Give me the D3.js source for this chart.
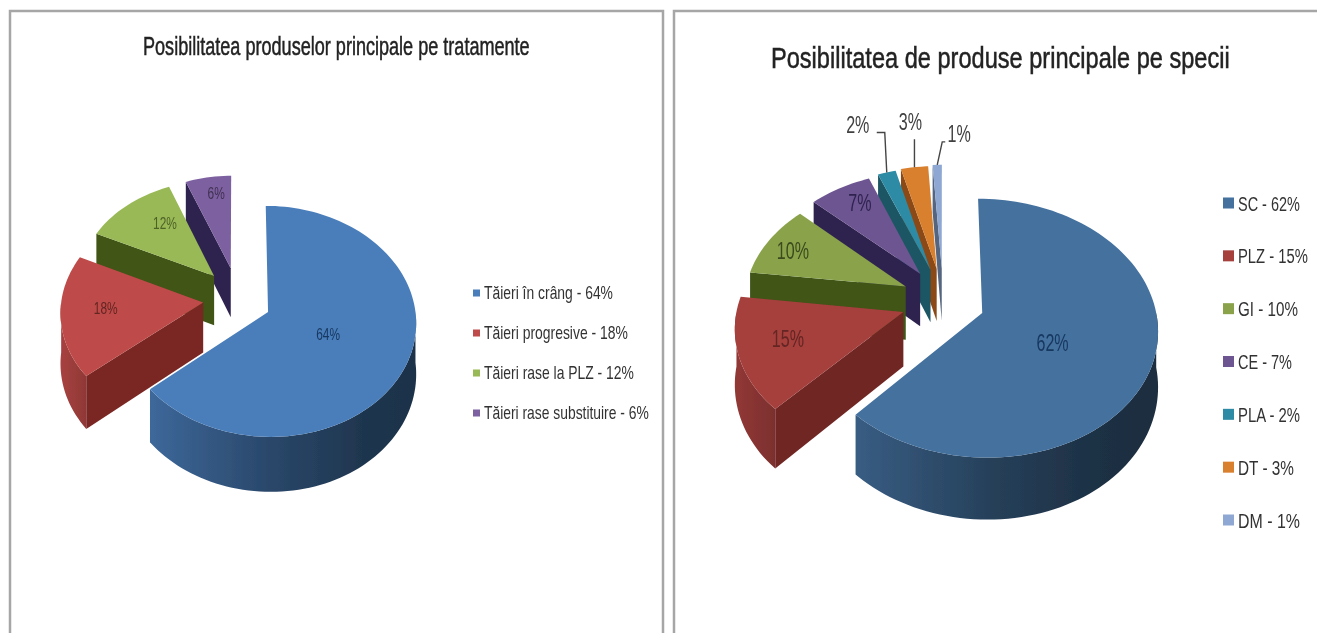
<!DOCTYPE html>
<html><head><meta charset="utf-8">
<script src="https://cdn.jsdelivr.net/npm/d3@7"></script>
<style>html,body{margin:0;padding:0;background:#fff;overflow:hidden}svg{display:block}text{font-family:"Liberation Sans",Arial,sans-serif}</style>
</head><body><svg id="c" width="1317" height="633"></svg>
<script>
// ---- data ----
const treatmentTitle = "Posibilitatea produselor principale pe tratamente";
const treatmentNames = ["Tăieri în crâng - 64%","Tăieri progresive - 18%","Tăieri rase la PLZ - 12%","Tăieri rase substituire - 6%"];
const treatmentValues = [64,18,12,6];
const speciesTitle = "Posibilitatea de produse principale pe specii";
const speciesNames = ["SC - 62%","PLZ - 15%","GI - 10%","CE - 7%","PLA - 2%","DT - 3%","DM - 1%"];
const speciesValues = [62,15,10,7,2,3,1];

// ---- styles ----
const leftTop = ["#4a7ebb","#be4b48","#98b954","#7d60a0"];
const leftRadial = ["#2c4d75","#7a2724","#3f5418","#2f2350"];
const leftLabel = ["#17375e","#632523","#4f6228","#3f3151"];
const rightTop = ["#44719f","#a53f3d","#8aa34c","#6c5490","#2f8ba5","#d9802f","#8fa8d3"];
const rightRadial = ["#2c4d75","#6f2522","#3f5418","#2f2350","#1c5563","#8a4a18","#55657f"];
const rightLabel = ["#17375e","#632523","#3a4a1c","#2f2350","#404040","#404040","#404040"];

const svg = d3.select("#c");
const defs = svg.append("defs");
const soft = defs.append("filter").attr("id","soft").attr("filterUnits","userSpaceOnUse").attr("x",0).attr("y",0).attr("width",1317).attr("height",633);
soft.append("feGaussianBlur").attr("stdDeviation",0.7);
const softT = defs.append("filter").attr("id","softT").attr("filterUnits","userSpaceOnUse").attr("x",0).attr("y",0).attr("width",1317).attr("height",633);
softT.append("feGaussianBlur").attr("stdDeviation",0.5);

const line = d3.line();
const rad = d3.scaleLinear().domain([0,360]).range([0,2*Math.PI]);
const pieGen = d3.pie().sort(null).value(d=>d).startAngle(0).endAngle(2*Math.PI);

// frames
const frames = [
  [[10,633],[10,11],[663,11],[663,633]],
  [[674,633],[674,11],[1317,11]]
];
svg.selectAll("path.frame").data(frames).join("path").attr("class","frame")
  .attr("d",line).attr("fill","none").attr("stroke","#a6a6a6").attr("stroke-width",2.5).attr("filter","url(#softT)");

// squeeze a text horizontally to the reference's condensed look
function place(sel, x, y, widthOf){
  sel.each(function(d,i){
    const w = widthOf(this.getComputedTextLength(), i);
    const sx = w/this.getComputedTextLength();
    d3.select(this).attr("transform",`translate(${x(d,i)},${y(d,i)}) scale(${sx},1)`);
  });
}

function drawPie(cfg){
  const g = svg.append("g");
  const {cx,cy,R,k,p,d,T,e} = cfg;
  const proj = (X,Y,Z=0)=>{const s=1/(1-p*Y);return [cx+X*s, cy+k*Y*s+Z*s];};
  const arcs = pieGen(cfg.values).map((a,i)=>{
    const mid=(a.startAngle+a.endAngle)/2;
    return {...a,i,mid,ox:d*Math.sin(mid),oy:-d*e*Math.cos(mid),rr:R*cfg.rs[i]};
  });
  const pt=(a,th,r,Z=0)=>proj(a.ox+r*Math.sin(th),a.oy-r*Math.cos(th),Z);
  const samp=(s,e2)=>{const st=rad(2);return d3.range(s,e2,st).concat([e2]);};
  const marks = g.append("g").attr("filter","url(#soft)");
  arcs.slice().reverse().forEach(a=>{
    const s=marks.append("g");
    // radial walls
    [[a.startAngle,-1],[a.endAngle,1]].forEach(([th,sgn])=>{
      if(sgn*Math.sin(th)>0.01){
        const poly=[pt(a,0,0),pt(a,th,a.rr),pt(a,th,a.rr,T),pt(a,0,0,T)];
        s.append("path").attr("d",line(poly)+"Z").attr("fill",cfg.radial[a.i]);
      }
    });
    // outer wall
    const ws=Math.max(a.startAngle,rad(90)), we=Math.min(a.endAngle,rad(270));
    if(we>ws){
      const ang=samp(ws,we);
      const poly=ang.map(t=>pt(a,t,a.rr)).concat(ang.slice().reverse().map(t=>pt(a,t,a.rr,T)));
      const id="w"+cfg.id+a.i;
      const xs=poly.map(q=>q[0]);
      const base=d3.color(cfg.top[a.i]);
      const gr=defs.append("linearGradient").attr("id",id).attr("gradientUnits","userSpaceOnUse")
        .attr("x1",d3.min(xs)).attr("x2",d3.max(xs)).attr("y1",0).attr("y2",0);
      const stops=a.i===0?[[0,base.darker(0.55)],[0.45,base.darker(1.6)],[0.8,base.darker(2.4)],[1,base.darker(2.6)]]:[[0,base.darker(0.35)],[1,base.darker(0.8)]];
      stops.forEach(([o,c])=>gr.append("stop").attr("offset",o).attr("stop-color",c));
      s.append("path").attr("d",line(poly)+"Z").attr("fill",`url(#${id})`);
    }
    // top
    const top=[pt(a,0,0)].concat(samp(a.startAngle,a.endAngle).map(t=>pt(a,t,a.rr)));
    s.append("path").attr("d",line(top)+"Z").attr("fill",cfg.top[a.i]);
  });

  const fg=g.append("g").attr("filter","url(#softT)");
  // title
  fg.append("text").text(cfg.title)
    .attr("font-size",cfg.titleSize).attr("fill","#222").attr("stroke","#222").attr("stroke-width",0.5)
    .call(place,()=>cfg.titleX,()=>cfg.titleY,()=>cfg.titleW);
  // labels
  arcs.forEach(a=>{
    const l=cfg.labels[a.i];
    let pos;
    if(l.r!==undefined){const q=pt(a,a.mid,l.r*R);pos=[q[0]+(l.nudge?l.nudge[0]:0),q[1]+(l.nudge?l.nudge[1]:0)];}
    else{
      const o=pt(a,a.mid,a.rr);
      pos=[o[0]+l.dx,o[1]+l.dy];
      const leader=[o].concat(l.leader.map(q=>[o[0]+q[0],o[1]+q[1]]));
      fg.append("path").attr("d",line(leader)).attr("fill","none").attr("stroke","#444").attr("stroke-width",1.4);
    }
    fg.append("text").text(cfg.values[a.i]+"%")
      .attr("text-anchor","middle").attr("font-size",cfg.labelSize).attr("fill",cfg.labelFill[a.i])
      .call(place,()=>pos[0],()=>pos[1]+cfg.labelSize*0.36,w=>w*cfg.labelSx);
  });
  // legend
  const ly=d3.scalePoint().domain(cfg.names).range(cfg.legendY);
  const lg=fg.selectAll("g.leg").data(cfg.names).join("g").attr("class","leg");
  lg.append("rect").attr("x",cfg.legendX).attr("y",n=>ly(n)-cfg.swatch/2).attr("width",cfg.swatch).attr("height",cfg.swatch)
    .attr("fill",(n,i)=>cfg.top[i]);
  lg.append("text").text(n=>n)
    .attr("font-size",cfg.legendSize).attr("fill","#333")
    .call(place,()=>cfg.legendX+cfg.swatch+cfg.legendGap,n=>ly(n)+cfg.legendSize*0.36,(w,i)=>cfg.legendW[i]);
}

drawPie({id:"L",title:treatmentTitle,names:treatmentNames,values:treatmentValues,
  cx:237,cy:298.5,R:146,k:0.771,p:0.00055,d:34,T:50,e:1.2,rs:[1,0.97,0.94,0.92],
  top:leftTop,radial:leftRadial,labelFill:leftLabel,
  titleX:143,titleY:55,titleSize:26,titleW:387,
  labelSize:17,labelSx:0.7,
  labels:[{r:0.44},{r:0.665,nudge:[0,-4]},{r:0.5,nudge:[-2,-14]},{r:0.62,nudge:[1,-13]}],
  legendX:473,legendY:[293,413],swatch:7,legendGap:4,legendSize:18,legendW:[129,144,150,165]});

drawPie({id:"R",title:speciesTitle,names:speciesNames,values:speciesValues,
  cx:943,cy:300.5,R:172,k:0.725,p:0.00068,d:41.7,T:54,e:1.1,rs:[1,0.96,0.94,0.95,0.96,0.97,0.98],
  top:rightTop,radial:rightRadial,labelFill:rightLabel,
  titleX:771,titleY:68,titleSize:30,titleW:459,
  labelSize:23,labelSx:0.7,
  labels:[{r:0.44,nudge:[-3,9]},{r:0.68,nudge:[0,-3]},{r:0.68,nudge:[-13,-2]},{r:0.6,nudge:[-8,-15]},
    {dx:-29,dy:-48,leader:[[-2,-40],[-10,-40]]},
    {dx:-4,dy:-46,leader:[[0,-28]]},
    {dx:22,dy:-31,leader:[[5,-23],[8,-23]]}],
  legendX:1223,legendY:[203,520],swatch:11,legendGap:4,legendSize:21,legendW:[62,70,60,54,62,56,62]});
</script></body></html>
